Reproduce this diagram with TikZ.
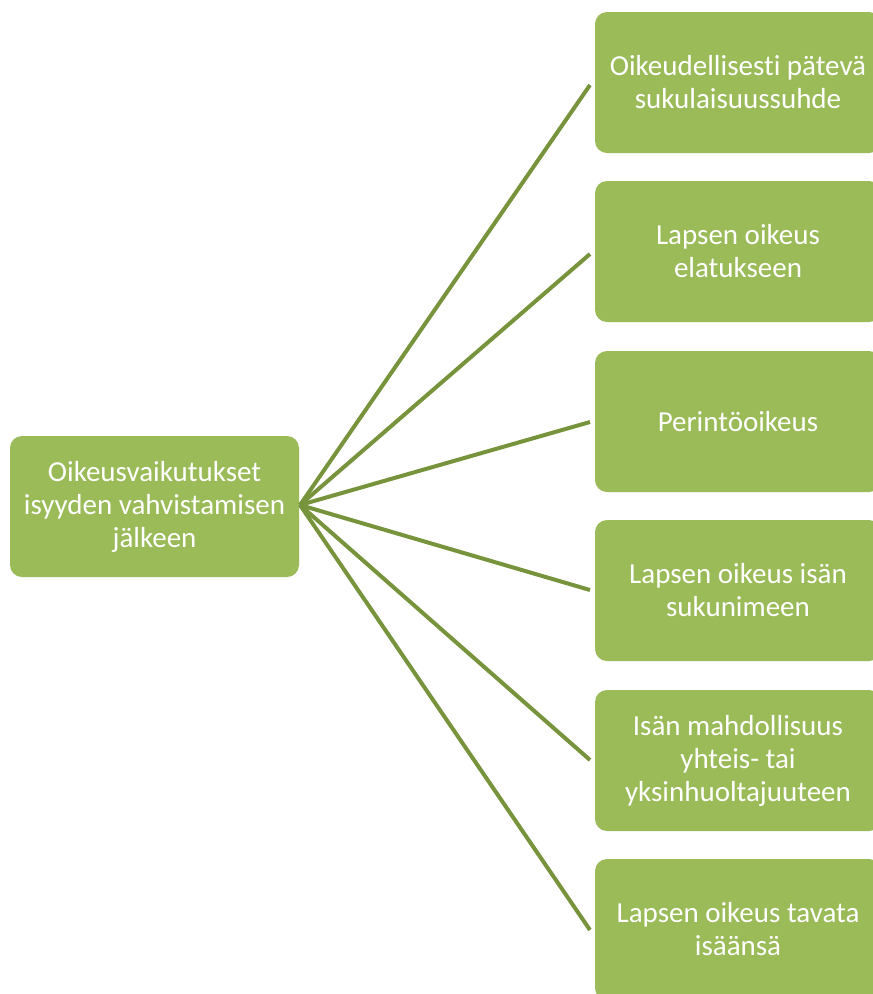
\documentclass[tikz,border=0pt]{standalone}
\usepackage{fontspec}
\setmainfont[Ligatures=NoCommon]{Carlito}
\begin{document}
\begin{tikzpicture}[x=1pt,y=-1pt,
  box/.style={fill=boxgreen, draw=none, rounded corners=12pt, text=white,
    align=center, font=\fontsize{29}{33}\selectfont, inner sep=0pt},
  link/.style={draw=linegreen, line width=4pt}]
\definecolor{boxgreen}{HTML}{9BBB59}
\definecolor{linegreen}{HTML}{77933C}
\useasboundingbox (0,0) rectangle (873,994);
\begin{scope}
\clip (0,0) rectangle (873,994);
\node[box, minimum width=289pt, minimum height=141pt] (root) at (154.5,506.5) {Oikeusvaikutukset\\isyyden vahvistamisen\\jälkeen};
\node[box, minimum width=286pt, minimum height=141pt] (c1) at (738,82.5) {Oikeudellisesti pätevä\\sukulaisuussuhde};
\node[box, minimum width=286pt, minimum height=141pt] (c2) at (738,251.5) {Lapsen oikeus\\elatukseen};
\node[box, minimum width=286pt, minimum height=141pt] (c3) at (738,421.5) {Perintöoikeus};
\node[box, minimum width=286pt, minimum height=141pt] (c4) at (738,590.5) {Lapsen oikeus isän\\sukunimeen};
\node[box, minimum width=286pt, minimum height=141pt] (c5) at (738,760.5) {Isän mahdollisuus\\yhteis- tai\\yksinhuoltajuuteen};
\node[box, minimum width=286pt, minimum height=141pt] (c6) at (738,929.5) {Lapsen oikeus tavata\\isäänsä};
\coordinate (s) at (300,505);
\coordinate (e1) at (590,85);
\coordinate (e2) at (590,254);
\coordinate (e3) at (590,422);
\coordinate (e4) at (590,590);
\coordinate (e5) at (590,760);
\coordinate (e6) at (590,930);
\foreach \i in {1,...,6} {\draw[link] (s) -- (e\i);}
\end{scope}
\end{tikzpicture}
\end{document}
